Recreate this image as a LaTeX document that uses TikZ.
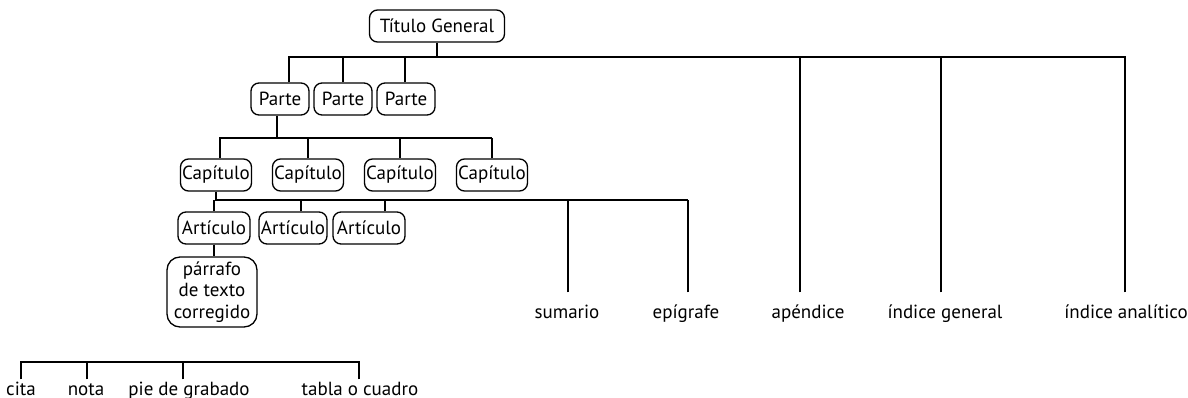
\documentclass[tikz,border=0pt]{standalone}
\usepackage{fontspec}
\setmainfont{PT Sans}
\begin{document}
\begin{tikzpicture}[x=1pt,y=-1pt,line width=1.3pt]
\tikzset{caja/.style={draw,rounded corners=8pt,minimum height=32pt,inner xsep=1pt,font=\fontsize{19}{21}\selectfont}}
\tikzset{fin/.style={anchor=base,inner xsep=0pt,inner ysep=11pt,text height=14pt,text depth=4pt,font=\fontsize{19}{21}\selectfont}}
\tikzset{ref/.style={anchor=base,inner xsep=0pt,inner ysep=1pt,text height=14pt,text depth=4pt,font=\fontsize{19}{21}\selectfont}}
\useasboundingbox (0,0) rectangle (1188,398);
\node [caja,minimum width=135pt] (tg) at (437,26) {Título General};
\node [caja,minimum width=58pt] (p1) at (280,99) {Parte};
\node [caja,minimum width=58pt] (p2) at (343,99) {Parte};
\node [caja,minimum width=58pt] (p3) at (406,99) {Parte};
\node [caja,minimum width=71pt] (c1) at (216,175) {Capítulo};
\node [caja,minimum width=71pt] (c2) at (308,175) {Capítulo};
\node [caja,minimum width=71pt] (c3) at (400,175) {Capítulo};
\node [caja,minimum width=71pt] (c4) at (492,175) {Capítulo};
\node [caja,minimum width=72pt] (a1) at (214,228) {Artículo};
\node [caja,minimum width=68pt] (a2) at (293,228) {Artículo};
\node [caja,minimum width=72pt] (a3) at (369,228) {Artículo};
\node [caja,minimum width=90pt,minimum height=70pt,rounded corners=13pt,align=center,
  font=\fontsize{19}{21.5}\selectfont] (par) at (212,292) {párrafo\\de texto\\corregido};
\node [fin] (sum) at (567,318) {sumario};
\node [fin] (epi) at (686,318) {epígrafe};
\node [fin] (ape) at (808,318) {apéndice};
\node [fin] (ige) at (945,318) {índice general};
\node [fin] (ian) at (1126,318) {índice analítico};
\node [ref] (cita) at (21,395) {cita};
\node [ref] (nota) at (86,395) {nota};
\node [ref] (pie) at (189,395) {pie de grabado};
\node [ref] (tab) at (360,395) {tabla o cuadro};
\coordinate (t1) at (289,57);
\coordinate (t2) at (1126,57);
\coordinate (pb) at (220,138);
\coordinate (cb) at (217,200);
\coordinate (bb) at (20,362);
% titulo general
\draw (tg.south) -- (tg.south |- t1);
\draw (t1 |- p1.north) -- (t1) -- (t2);
\foreach \n/\d in {p2/0,p3/-1,ape/-8,ige/-4,ian/-1}
	\draw ([xshift=\d pt]\n.north) -- ([xshift=\d pt]\n.north |- t1);
% partes y capitulos
\draw ([xshift=-3pt]p1.south) -- ([xshift=-3pt]p1.south |- pb);
\draw (pb |- c1.north) -- (pb) -- (c4.north |- pb);
\foreach \n in {c2,c3,c4}
	\draw (\n.north) -- (\n.north |- pb);
% capitulo y articulos
\draw (c1.south) -- (c1.south |- cb) -- ([xshift=2pt]epi.north |- cb);
\draw (a1.north) -- (a1.north |- cb);
\draw ([xshift=8pt]a2.north) -- ([xshift=8pt]a2.north |- cb);
\draw ([xshift=16pt]a3.north) -- ([xshift=16pt]a3.north |- cb);
\draw ([xshift=1pt]sum.north) -- ([xshift=1pt]sum.north |- cb);
\draw ([xshift=2pt]epi.north) -- ([xshift=2pt]epi.north |- cb);
\draw (a1.south) -- (a1.south |- par.north);
% elementos
\draw (cita.north) -- (cita.north |- bb) -- (tab.north |- bb);
\foreach \n/\d in {nota/1,pie/-6,tab/-1}
	\draw ([xshift=\d pt]\n.north) -- ([xshift=\d pt]\n.north |- bb);
\end{tikzpicture}
\end{document}
